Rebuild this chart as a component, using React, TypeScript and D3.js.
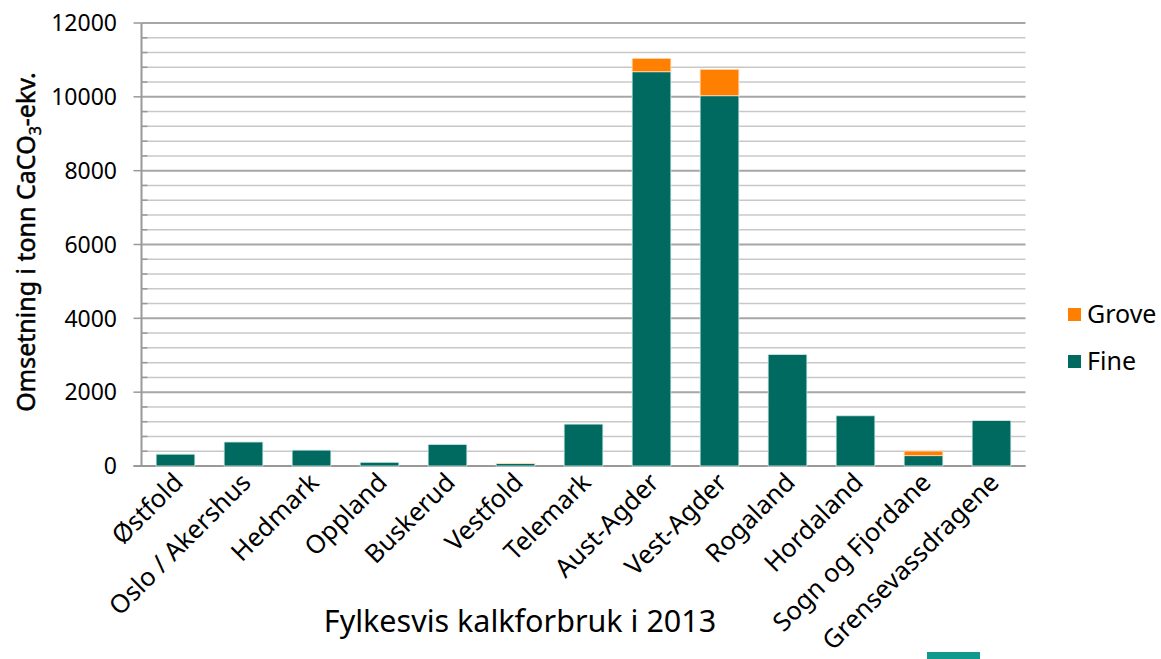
import React from "react";
import * as d3 from "d3";

const categories = ["Østfold", "Oslo / Akershus", "Hedmark", "Oppland", "Buskerud", "Vestfold", "Telemark", "Aust-Agder", "Vest-Agder", "Rogaland", "Hordaland", "Sogn og Fjordane", "Grensevassdragene"];
const fineValues = [320, 650, 430, 100, 585, 70, 1135, 10680, 10030, 3020, 1360, 280, 1230];
const groveValues = [0, 0, 0, 0, 0, 5, 0, 363, 715, 0, 0, 125, 0];
const yTicks = [0, 2000, 4000, 6000, 8000, 10000, 12000];
const seriesNames = ["Grove", "Fine"];

const W = 1161, H = 659;
const FONT = "'Noto Sans', 'DejaVu Sans', sans-serif";
const FINE = "#006A60";
const GROVE = "#FF8000";

export default function App() {
  const left = 141.5, right = 1025.5, top = 23, bottom = 466;
  const x = d3.scaleBand<string>().domain(categories).range([left, right]).paddingInner(0.43).paddingOuter(0.215);
  const y = d3.scaleLinear().domain([0, 12000]).range([bottom, top]);
  const minor = d3.range(0, 12001, 400);

  return (
    <svg width={W} height={H} style={{ position: "absolute", left: 0, top: 0, background: "#fff" }} fontFamily={FONT}>
      {minor.map((v) => (
        <line key={"g" + v} x1={left} x2={right} y1={y(v)} y2={y(v)}
          stroke={v % 2000 === 0 ? "#a6a6a6" : "#c8c8c8"} strokeWidth={v % 2000 === 0 ? 2 : 1.5} />
      ))}
      {minor.map((v) => (
        <line key={"t" + v} x1={v % 2000 === 0 ? left - 8 : left} x2={left + (v % 2000 === 0 ? 0 : 6)} y1={y(v)} y2={y(v)} stroke="#999" strokeWidth={1.5} />
      ))}
      <line x1={left} x2={left} y1={top} y2={bottom} stroke="#999" strokeWidth={2} />
      <line x1={left - 8} x2={right} y1={bottom} y2={bottom} stroke="#999" strokeWidth={2} />
      {categories.map((c, i) => {
        const bx = x(c)!;
        const bw = x.bandwidth();
        const f = fineValues[i];
        const g = groveValues[i];
        return (
          <g key={c}>
            <rect x={bx} y={y(f)} width={bw} height={y(0) - y(f)} fill={FINE} stroke="#cfeae6" strokeWidth={0.8} />
            {g > 0 && (
              <rect x={bx} y={y(f + g)} width={bw} height={y(f) - y(f + g)} fill={GROVE} stroke="#ffe0c0" strokeWidth={0.8} />
            )}
          </g>
        );
      })}
      {yTicks.map((v) => (
        <text key={"yl" + v} x={117} y={y(v)} dy="0.36em" textAnchor="end" fontSize={23} fill="#000">{v}</text>
      ))}
      {categories.map((c) => {
        const cx = x(c)! + x.bandwidth() / 2 + 9;
        return (
          <text key={"xl" + c} transform={`translate(${cx},${484}) rotate(-45)`} textAnchor="end" fontSize={25.5} fill="#000">{c}</text>
        );
      })}
      <text transform={`translate(35,${242}) rotate(-90)`} textAnchor="middle" fontSize={25} stroke="#000" strokeWidth={0.5} fill="#000">
        Omsetning i tonn CaCO<tspan fontSize={16} dy={6}>3</tspan><tspan dy={-6}>-ekv.</tspan>
      </text>
      <text x={520} y={632} textAnchor="middle" fontSize={30.5} fill="#000">Fylkesvis kalkforbruk i 2013</text>
      {seriesNames.map((s, i) => (
        <g key={s}>
          <rect x={1068} y={308 + i * 47} width={13} height={13} fill={s === "Grove" ? GROVE : FINE} />
          <text x={1087} y={323 + i * 47} fontSize={25} fill="#000">{s}</text>
        </g>
      ))}
      <rect x={927} y={652} width={53} height={7} fill="#12998E" />
    </svg>
  );
}
